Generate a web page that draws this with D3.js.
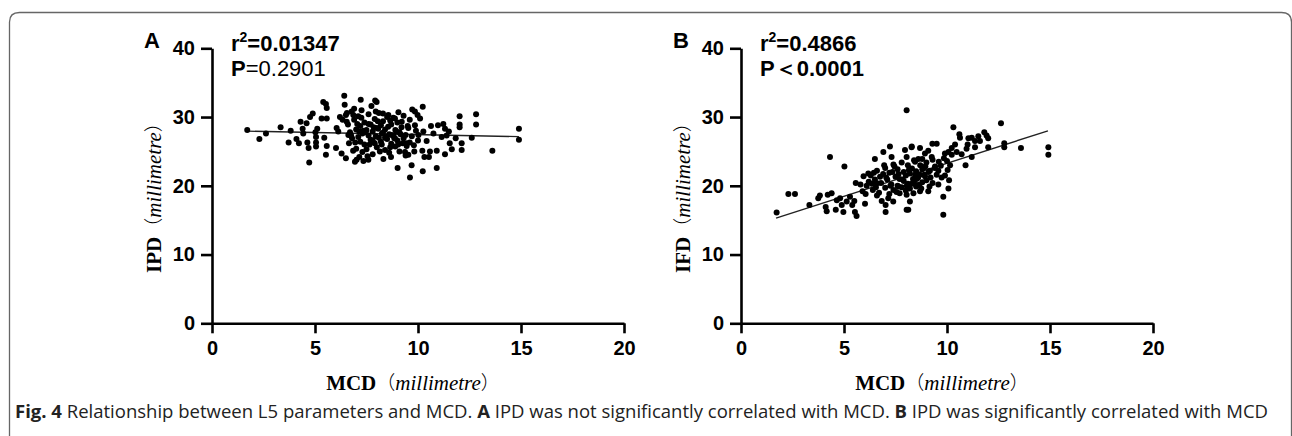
<!DOCTYPE html>
<html>
<head>
<meta charset="utf-8">
<script src="https://cdn.jsdelivr.net/npm/d3@7"></script>
<style>
  body { margin: 0; background: #fff; }
  svg { display: block; }
  .tick text { font-family: "Liberation Sans", Arial, sans-serif; font-weight: bold; font-size: 20px; fill: #000; }
</style>
</head>
<body>
<div id="chart"></div>
<script>
// figure size
var svgWidth = 1292;
var svgHeight = 436;

// axis ticks (shared by both panels)
var xTicks = [0, 5, 10, 15, 20];
var yTicks = [0, 10, 20, 30, 40];

// panel A : MCD vs IPD
var mcdA = [1.71, 2.30, 2.62, 3.33, 3.72, 3.82, 4.10, 4.22, 4.30, 4.40, 4.43, 4.59, 4.63, 4.69, 4.72, 4.76, 4.89,
  5.02, 5.05, 5.05, 5.05, 5.11, 5.32, 5.40, 5.53, 5.57, 5.57, 5.45, 5.57, 5.53, 6.02, 6.05, 6.13, 6.21, 6.34,
  6.42, 6.44, 6.50, 6.54, 6.29, 6.50, 6.62, 6.65, 6.78, 6.86, 6.94, 7.02, 7.22, 7.26, 7.35, 7.59, 7.92, 7.74,
  14.90, 14.90, 13.61, 12.82, 12.82, 12.61, 12.02, 12.02, 12.02, 12.12, 12.12, 11.83, 11.64, 11.50, 11.54, 11.31,
  11.23, 11.31, 11.39, 10.97, 11.15, 10.91, 10.91, 10.63, 10.75, 10.58, 10.53, 10.42, 10.23, 10.23, 10.10, 9.98,
  9.85, 9.72, 9.85, 9.82, 9.69, 9.61, 10.21, 10.31, 9.01, 9.53, 9.37, 8.32, 8.69, 8.88, 9.21, 9.53, 10.26, 10.02,
  8.88, 9.04, 8.24, 7.99, 8.07, 8.56, 8.72, 9.45,
  6.6, 6.7, 6.8, 6.9, 7.0, 7.0, 7.1, 7.1, 7.2, 7.2, 7.3, 7.3, 7.4, 7.4, 7.5, 7.5, 7.6, 7.6, 7.7, 7.7, 7.8, 7.8,
  7.9, 7.9, 8.0, 8.0, 8.1, 8.1, 8.2, 8.2, 8.3, 8.3, 8.4, 8.4, 8.5, 8.5, 8.6, 8.6, 8.7, 8.7, 8.8, 8.8, 8.9, 8.9,
  9.0, 9.0, 9.1, 9.1, 9.2, 9.3, 9.3, 9.4, 9.4, 9.5, 9.6, 9.6, 9.7, 9.8, 9.9, 10.0, 7.05, 7.35, 7.65, 7.95, 8.25,
  8.55, 8.85, 9.15, 6.75, 6.95, 7.45, 7.85, 8.05, 8.45, 8.95, 9.25, 6.85, 7.15, 7.55, 8.15, 8.65, 9.45,
  6.55, 6.9, 7.25, 7.6, 7.95, 8.3, 8.65, 9.05, 7.15, 7.8, 8.4];
var ipdA = [28.1, 26.8, 27.6, 28.5, 26.3, 28.0, 26.8, 26.2, 29.3, 28.3, 27.6, 29.1, 26.3, 25.5, 23.4, 30.0, 30.5,
  27.8, 27.1, 26.3, 25.7, 28.3, 29.8, 32.2, 31.9, 31.3, 29.8, 27.0, 25.8, 24.5, 25.5, 28.4, 27.9, 30.0, 29.6,
  33.1, 31.8, 30.3, 29.3, 24.7, 24.0, 27.4, 26.2, 30.8, 30.3, 23.5, 23.8, 32.5, 31.0, 23.6, 23.8, 32.4, 31.6,
  28.3, 26.7, 25.1, 30.4, 28.9, 27.0, 30.1, 28.9, 28.5, 26.2, 25.2, 26.9, 25.3, 27.9, 26.2, 24.6,
  29.0, 28.3, 27.3, 28.8, 27.1, 25.1, 22.6, 28.7, 27.6, 25.0, 24.2, 26.5, 31.5, 22.1, 29.8, 30.3,
  30.8, 31.1, 28.8, 25.0, 23.0, 21.2, 25.1, 24.2, 22.6, 24.5, 24.9, 23.9, 24.2, 29.8, 29.3, 28.4, 27.9, 27.4,
  26.9, 26.0, 26.0, 32.2, 28.3, 30.3, 27.4, 26.2,
  28.9, 27.8, 26.9, 29.6, 28.2, 25.4, 27.1, 30.1, 26.4, 28.7, 24.9, 27.6, 29.2, 26.0, 28.1, 25.3, 30.4, 27.3, 26.7, 28.9, 24.6, 27.9,
  29.7, 26.2, 28.4, 25.6, 27.0, 30.6, 28.8, 26.4, 27.7, 29.4, 25.2, 28.2, 26.8, 30.0, 27.5, 24.8, 28.9, 26.1, 27.3, 29.9, 25.7, 28.1,
  26.6, 29.2, 27.8, 25.0, 28.5, 26.9, 30.2, 27.4, 24.4, 28.7, 26.3, 29.6, 27.2, 25.9, 28.0, 26.6, 29.0, 28.0, 26.0, 27.2, 27.6,
  28.6, 26.9, 27.5, 27.3, 26.3, 27.8, 28.5, 29.4, 27.1, 27.9, 26.2, 25.1, 24.2, 24.3, 25.0, 25.6, 25.8,
  30.6, 31.2, 29.9, 29.0, 30.8, 30.5, 29.5, 30.7, 27.9, 26.6, 27.0];

// panel B : MCD vs IFD
var mcdB = [1.73, 2.30, 2.62, 3.32, 3.75, 3.83, 4.11, 4.16, 4.21, 4.40, 4.32, 4.60, 4.65, 4.81, 4.89, 4.97, 5.02,
  5.13, 5.29, 5.40, 5.50, 5.53, 5.61, 5.57, 6.02, 6.10, 6.18, 6.50, 6.58, 6.83, 6.91, 7.02, 7.02, 7.23, 7.31,
  7.39, 8.04, 7.96, 8.12, 8.28, 7.64,
  14.92, 14.92, 13.59, 12.78, 12.78, 12.62, 12.0, 12.0, 11.81, 11.92, 11.52, 11.60, 11.36, 11.36, 11.20, 11.04,
  11.0, 10.95, 11.20, 10.90, 10.71, 10.63, 10.60, 10.31, 10.39, 10.47, 10.23, 10.23, 10.07, 9.90, 10.15, 10.03,
  10.10, 10.07, 9.82, 9.82, 9.58, 9.50, 9.29, 9.26, 9.09, 8.93, 8.90, 8.80, 8.69, 8.61, 8.29, 8.45, 8.04, 9.09,
  8.61, 8.53, 8.29, 8.04, 8.04, 8.69, 9.42, 8.93, 9.17, 9.74, 9.58, 8.37, 8.20, 8.69,
  6.2, 6.3, 6.4, 6.5, 6.6, 6.7, 6.8, 6.9, 7.0, 7.0, 7.1, 7.2, 7.2, 7.3, 7.4, 7.4, 7.5, 7.6, 7.6, 7.7, 7.7, 7.8,
  7.8, 7.9, 7.9, 8.0, 8.0, 8.1, 8.1, 8.2, 8.2, 8.3, 8.4, 8.4, 8.5, 8.5, 8.6, 8.7, 8.8, 8.8, 8.9, 9.0, 9.0, 9.1,
  9.2, 9.3, 9.3, 9.4, 9.5, 9.6, 6.45, 6.75, 7.05, 7.35, 7.55, 7.85, 8.15, 8.35, 8.65, 8.95, 7.25, 7.65, 8.05,
  8.45, 6.55, 6.35, 6.95, 7.45, 8.75, 9.15, 6.6, 7.15, 5.9, 6.05, 5.8, 5.95, 9.7, 9.85, 10.0, 9.9];
var ifdB = [16.1, 18.8, 18.8, 17.2, 18.2, 18.6, 16.9, 16.3, 18.7, 18.9, 24.2, 16.5, 17.9, 18.2, 17.2, 16.2, 22.8,
  17.7, 18.4, 17.2, 17.8, 16.2, 15.6, 20.4, 17.4, 20.0, 21.8, 23.9, 20.4, 17.8, 24.9, 17.2, 16.2, 25.7, 24.2,
  17.7, 31.0, 25.2, 16.5, 25.6, 19.9,
  25.6, 24.5, 25.5, 26.2, 25.6, 29.1, 26.9, 25.6, 27.8, 27.3, 27.2, 26.5, 26.5, 25.6, 27.0, 26.9,
  26.0, 25.4, 24.2, 23.0, 24.6, 27.0, 27.5, 28.5, 26.0, 24.9, 24.5, 25.5, 24.9, 24.7, 23.0, 22.3,
  20.8, 19.6, 18.4, 15.8, 22.2, 26.1, 26.1, 24.2, 25.1, 24.7, 22.7, 23.9, 25.5, 23.9, 25.7, 23.5, 24.2, 19.2,
  20.1, 21.0, 20.3, 18.7, 16.5, 21.6, 22.8, 21.4, 22.2, 21.2, 20.2, 18.9, 17.7, 19.2,
  20.6, 21.5, 19.4, 20.9, 22.2, 19.0, 20.4, 21.7, 19.7, 22.6, 20.9, 18.8, 21.9, 20.2, 23.1, 19.4, 21.3, 20.0, 22.4, 18.9, 21.0, 19.8,
  23.4, 20.7, 22.0, 19.3, 21.5, 20.3, 23.0, 21.8, 19.6, 22.5, 20.6, 23.7, 19.9, 22.1, 21.2, 23.0, 20.5, 22.4, 21.6, 23.4, 20.8, 22.0,
  21.2, 23.8, 20.4, 22.6, 21.6, 23.5, 21.9, 21.3, 21.2, 22.0, 19.1, 20.9, 22.3, 21.0, 20.1, 22.8, 20.0, 21.7, 20.0,
  21.6, 19.8, 20.3, 23.0, 22.8, 19.6, 19.9, 18.6, 18.2, 19.2, 18.8, 20.2, 21.4, 22.9, 24.0, 23.6, 21.5];

// fitted lines, end points
var fitX = [1.7, 14.9];
var fitA = [27.95, 27.15];
var fitB = [15.3, 28.0];

var svg = d3.select("#chart").append("svg")
  .attr("width", svgWidth)
  .attr("height", svgHeight);

// outer frame (rounded at top)
svg.append("path")
  .attr("d", "M9.5,450 V22 Q9.5,12.5 19.5,12.5 H1281.5 Q1291.5,12.5 1291.5,22 V450")
  .attr("fill", "none")
  .attr("stroke", "#666")
  .attr("stroke-width", 1.3);

function parenLabel(t, name) {
  t.append("tspan").attr("font-weight", "bold").text(name);
  t.append("tspan").attr("font-family", "'Noto Sans CJK SC', sans-serif").attr("font-size", 19).attr("font-weight", 300).text("（");
  t.append("tspan").attr("font-style", "italic").text("millimetre");
  t.append("tspan").attr("font-family", "'Noto Sans CJK SC', sans-serif").attr("font-size", 19).attr("font-weight", 300).text("）");
}

function drawPanel(p) {
  var x = d3.scaleLinear().domain([0, 20]).range([p.left, p.left + 412]);
  var y = d3.scaleLinear().domain([0, 40]).range([323.3, 48.3]);

  var g = svg.append("g");

  var xAxis = g.append("g")
    .attr("transform", "translate(0,323.3)")
    .call(d3.axisBottom(x).tickValues(xTicks).tickSize(10).tickSizeOuter(0).tickPadding(8));

  var yAxis = g.append("g")
    .attr("transform", `translate(${p.left},0)`)
    .call(d3.axisLeft(y).tickValues(yTicks).tickSize(11).tickSizeOuter(0).tickPadding(6));

  // thick black axes like the prism output
  [xAxis, yAxis].forEach(function(a) {
    a.select(".domain").attr("stroke", "#000").attr("stroke-width", 2.6);
    a.selectAll(".tick line").attr("stroke", "#000").attr("stroke-width", 2.6);
  });

  // regression line
  g.append("path")
    .datum(fitX.map((v, i) => [v, p.fit[i]]))
    .attr("d", d3.line().x(d => x(d[0])).y(d => y(d[1])))
    .attr("stroke", "#222")
    .attr("stroke-width", 1.4)
    .attr("fill", "none");

  g.selectAll("circle.pt")
    .data(p.xs)
    .enter()
    .append("circle")
    .attr("class", "pt")
    .attr("cx", d => x(d))
    .attr("cy", (d, i) => y(p.ys[i]))
    .attr("r", 3)
    .attr("fill", "#000");

  // panel letter
  g.append("text")
    .attr("x", p.left - 68)
    .attr("y", 48)
    .attr("font-family", "Liberation Sans, Arial, sans-serif")
    .attr("font-weight", "bold")
    .attr("font-size", 22)
    .text(p.letter);

  // r squared
  var r2 = g.append("text")
    .attr("x", p.left + 19)
    .attr("y", 51)
    .attr("font-family", "Liberation Sans, Arial, sans-serif")
    .attr("font-weight", "bold")
    .attr("font-size", 22);
  r2.append("tspan").text("r");
  r2.append("tspan").attr("dy", -9).attr("font-size", 14).text("2");
  r2.append("tspan").attr("dy", 9).text("=" + p.r2);

  var pv = g.append("text")
    .attr("x", p.left + 19)
    .attr("y", 76)
    .attr("font-family", "Liberation Sans, Arial, sans-serif")
    .attr("font-size", 22);
  pv.append("tspan").attr("font-weight", "bold").text("P");
  pv.append("tspan").attr("font-weight", p.pBold ? "bold" : "normal").text(p.pText);

  // x label
  var xl = g.append("text")
    .attr("x", p.left + 201)
    .attr("y", 390)
    .attr("text-anchor", "middle")
    .attr("font-family", "Liberation Serif, 'Times New Roman', serif")
    .attr("font-size", 21);
  parenLabel(xl, "MCD");

  // y label
  var yl = g.append("text")
    .attr("transform", `translate(${p.left - 51},${193}) rotate(-90)`)
    .attr("text-anchor", "middle")
    .attr("font-family", "Liberation Serif, 'Times New Roman', serif")
    .attr("font-size", 21);
  parenLabel(yl, p.yName);
}

drawPanel({left: 212, xs: mcdA, ys: ipdA, fit: fitA, letter: "A", r2: "0.01347", pText: "=0.2901", pBold: false, yName: "IPD"});
drawPanel({left: 741, xs: mcdB, ys: ifdB, fit: fitB, letter: "B", r2: "0.4866", pText: "＜0.0001", pBold: true, yName: "IFD"});

// caption
var cap = svg.append("text")
  .attr("x", 15)
  .attr("y", 418)
  .attr("font-family", "'Open Sans', 'Noto Sans', sans-serif")
  .attr("font-size", 18)
  .attr("fill", "#222")
  .attr("textLength", 1253)
  .attr("lengthAdjust", "spacingAndGlyphs");
cap.append("tspan").attr("font-weight", "bold").text("Fig. 4");
cap.append("tspan").text("  Relationship between L5 parameters and MCD. ");
cap.append("tspan").attr("font-weight", "bold").text("A");
cap.append("tspan").text(" IPD was not significantly correlated with MCD. ");
cap.append("tspan").attr("font-weight", "bold").text("B");
cap.append("tspan").text(" IPD was significantly correlated with MCD");
</script>
</body>
</html>
